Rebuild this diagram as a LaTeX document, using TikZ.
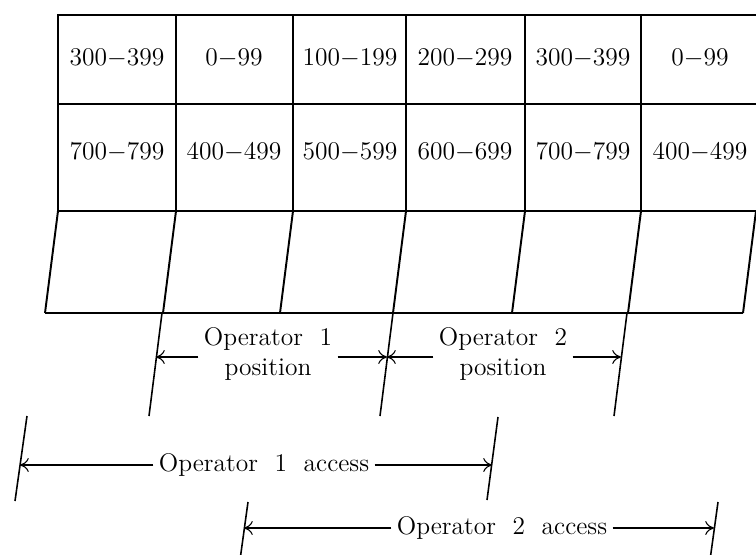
\documentclass[tikz,border=0pt]{standalone}
\usepackage{tikz}
\usetikzlibrary{arrows.meta, positioning}

\begin{document}
\begin{tikzpicture}[x=0.02cm, y=-0.02cm,
  every node/.style={font=\fontsize{14.5}{17.5}\selectfont, inner sep=3pt},
  grid/.style={line width=1.1pt},
  tick/.style={line width=0.9pt},
  dim/.style={line width=0.6pt, -{To[length=5pt,width=8pt]}}]
  \useasboundingbox (0,0) rectangle (756,554);
  % tape blocks
  \draw[grid] (756,15) -- (58,15) -- (58,211) -- (756,211);
  \draw[grid] (58,104) -- (756,104);
  \foreach \x in {176,293,406,525,641} \draw[grid] (\x,15) -- (\x,211);
  \foreach \x in {58,176,293,406,525,641,756} \draw[grid] (\x,211) -- ++(-13,102);
  \draw[grid] (45,313) -- (743,313);
  % block ranges
  \foreach \x/\a/\b [count=\i] in {117/300/700, 234/0/400, 350/100/500,
      465/200/600, 583/300/700, 700/0/400} {
    \pgfmathtruncatemacro\ae{\a+99}
    \pgfmathtruncatemacro\be{\b+99}
    \node (up\i) at (\x,58) {\a$-$\ae};
    \node (lo\i) at (\x,152) {\b$-$\be};
  }
  % extension lines
  \draw[tick] (162,313) -- (149,416);
  \draw[tick] (393,313) -- (380,416);
  \draw[tick] (627,313) -- (614,416);
  \draw[tick] (27,416) -- (15,501);
  \draw[tick] (498,417) -- (487,500);
  \draw[tick] (248,502) -- (240,560);
  \draw[tick] (718,502) -- (710,560);
  \coordinate (p1l) at (156,357);
  \coordinate (p1r) at (387,357);
  \coordinate (p2r) at (621,357);
  \coordinate (a1l) at (20,465);
  \coordinate (a1r) at (492,465);
  \coordinate (a2l) at (244,528);
  \coordinate (a2r) at (714,528);
  % operator positions
  \node[align=center] (op1pos) at (268,354) {Operator\ \ 1\\position};
  \node[align=center] (op2pos) at (503,354) {Operator\ \ 2\\position};
  \draw[dim] (op1pos.west |- p1l) -- (p1l);
  \draw[dim] (op1pos.east |- p1l) -- (p1r);
  \draw[dim] (op2pos.west |- p1r) -- (p1r);
  \draw[dim] (op2pos.east |- p2r) -- (p2r);
  % operator access
  \node (op1acc) at (264,465) {Operator\ \ 1\ \ access};
  \node (op2acc) at (502,528) {Operator\ \ 2\ \ access};
  \draw[dim] (op1acc.west) -- (a1l);
  \draw[dim] (op1acc.east) -- (a1r);
  \draw[dim] (op2acc.west) -- (a2l);
  \draw[dim] (op2acc.east) -- (a2r);
\end{tikzpicture}
\end{document}
